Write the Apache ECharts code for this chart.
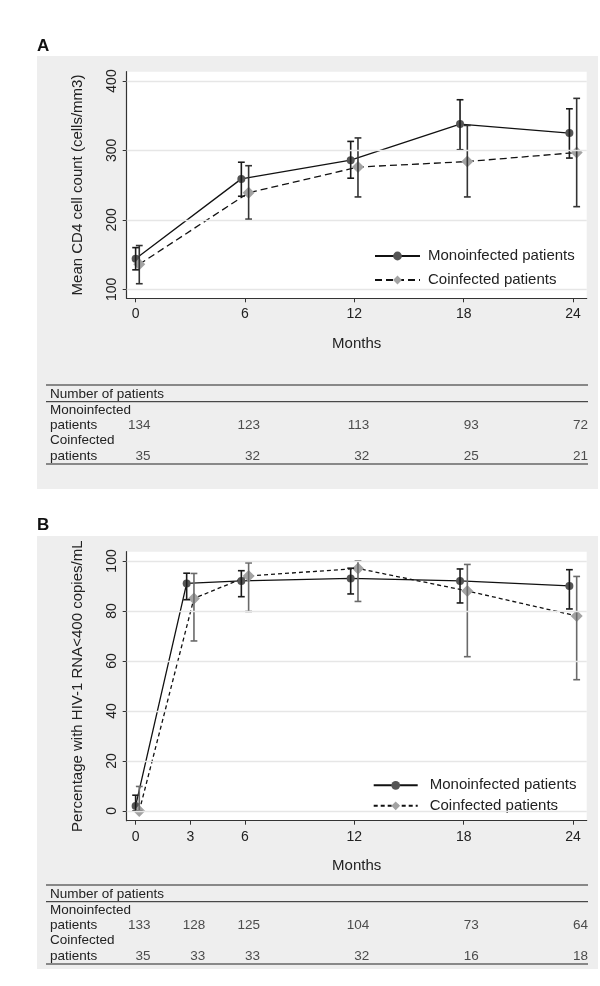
<!DOCTYPE html>
<html>
<head>
<meta charset="utf-8">
<script src="https://cdn.jsdelivr.net/npm/echarts@6/dist/echarts.min.js"></script>
<style>
  html, body { margin: 0; padding: 0; background: #fff; }
  #chart { width: 600px; height: 986px; }
</style>
</head>
<body>
<div id="chart"></div>
<script>
// panel A: CD4 count
const monthsA = [0, 6, 12, 18, 24]
const monoXA = [0, 5.8, 11.8, 17.8, 23.8]
const coXA = [0.2, 6.2, 12.2, 18.2, 24.2]
const monoCd4 = [144, 259, 286, 338, 325]
const monoCd4Lo = [128, 234, 260, 301, 289]
const monoCd4Hi = [160, 283, 313, 373, 360]
const coCd4 = [136, 239, 276, 284, 297]
const coCd4Lo = [108, 201, 233, 233, 219]
const coCd4Hi = [163, 278, 318, 336, 375]
const yTicksA = [100, 200, 300, 400]
const monoCountA = [134, 123, 113, 93, 72]
const coCountA = [35, 32, 32, 25, 21]

// panel B: % with HIV-1 RNA < 400
const monthsB = [0, 3, 6, 12, 18, 24]
const monoXB = [0, 2.8, 5.8, 11.8, 17.8, 23.8]
const coXB = [0.2, 3.2, 6.2, 12.2, 18.2, 24.2]
const monoPct = [2, 91, 92, 93, 92, 90]
const monoPctLo = [0, 84.5, 85.7, 86.8, 83.2, 80.8]
const monoPctHi = [6.3, 95.1, 96.1, 97.1, 96.8, 96.5]
const coPct = [0, 85, 94, 97, 88, 78]
const coPctLo = [0, 68, 79.8, 83.8, 61.7, 52.5]
const coPctHi = [9.8, 95, 99.2, 100, 98.6, 93.8]
const yTicksB = [0, 20, 40, 60, 80, 100]
const monoCountB = [133, 128, 125, 104, 73, 64]
const coCountB = [35, 33, 33, 32, 16, 18]

const FONT = 'Liberation Sans, Arial, Helvetica, sans-serif'
const INK = '#222'
const AXIS = '#333'

const pts = (xs, ys) => xs.map((x, i) => [x, ys[i]])
const bars = (xs, lo, hi) => xs.map((x, i) => [x, lo[i], hi[i]])
const counts = (months, vals, row) => months.map((m, i) => [m, row, vals[i]])

const errorBar = color => (params, api) => {
  const x = api.value(0)
  const lo = api.coord([x, api.value(1)])
  const hi = api.coord([x, api.value(2)])
  const w = 3.4
  const style = { stroke: color, lineWidth: 1.6 }
  return {
    type: 'group',
    children: [
      { type: 'line', shape: { x1: lo[0], y1: lo[1], x2: hi[0], y2: hi[1] }, style },
      { type: 'line', shape: { x1: hi[0] - w, y1: hi[1], x2: hi[0] + w, y2: hi[1] }, style },
      { type: 'line', shape: { x1: lo[0] - w, y1: lo[1], x2: lo[0] + w, y2: lo[1] }, style }
    ]
  }
}

const xMin = -0.49
const xMax = 24.75

const monthAxis = (gridIndex, ticks) => ({
  type: 'value', gridIndex, min: xMin, max: xMax,
  axisLine: { show: true, onZero: false, lineStyle: { color: AXIS, width: 1.2 } },
  axisTick: { show: true, length: 4, customValues: ticks, lineStyle: { color: AXIS } },
  axisLabel: { customValues: ticks, fontSize: 14, color: INK, fontFamily: FONT, margin: 9 },
  splitLine: { show: false },
  name: 'Months', nameLocation: 'middle', nameGap: 38,
  nameTextStyle: { fontSize: 15, color: INK, fontFamily: FONT }
})

const valueAxis = (gridIndex, min, max, ticks, name) => ({
  type: 'value', gridIndex, min, max,
  axisLine: { show: true, onZero: false, lineStyle: { color: AXIS, width: 1.2 } },
  axisTick: { show: true, length: 4, customValues: ticks, lineStyle: { color: AXIS } },
  axisLabel: { customValues: ticks, rotate: 90, fontSize: 14, color: INK, fontFamily: FONT, margin: 8 },
  splitLine: { show: false },
  name, nameLocation: 'middle', nameGap: 41,
  nameTextStyle: { fontSize: 15, color: INK, fontFamily: FONT }
})

const hiddenX = gridIndex => ({ type: 'value', gridIndex, min: xMin, max: xMax, show: false })
const hiddenY = gridIndex => ({ type: 'value', gridIndex, min: 0, max: 1, show: false })

const gridLines = (xi, ticks) => ({
  type: 'line', xAxisIndex: xi, yAxisIndex: xi, data: [], silent: true, z: 1,
  markLine: {
    symbol: 'none', silent: true, label: { show: false },
    lineStyle: { color: '#e6e6e6', width: 1.3, type: 'solid' },
    data: ticks.map(v => ({ yAxis: v }))
  }
})

const countLabels = (xi, data) => ({
  type: 'scatter', xAxisIndex: xi, yAxisIndex: xi, data, symbolSize: 0, silent: true,
  itemStyle: { color: 'rgba(0,0,0,0)' },
  label: {
    show: true, position: 'inside', offset: [15, 0], align: 'right', verticalAlign: 'middle',
    fontSize: 13.5, color: INK, fontFamily: FONT,
    formatter: p => String(p.value[2])
  }
})

const monoLine = (name, xi, data) => ({
  name, type: 'line', xAxisIndex: xi, yAxisIndex: xi, data, z: 3,
  symbol: 'circle', symbolSize: 8,
  itemStyle: { color: '#555' },
  lineStyle: { color: '#111', width: 1.3 }
})

const coLine = (name, xi, data, dash) => ({
  name, type: 'line', xAxisIndex: xi, yAxisIndex: xi, data, z: 3,
  symbol: 'diamond', symbolSize: 12,
  itemStyle: { color: '#a3a3a3' },
  lineStyle: { color: '#111', width: 1.3, type: dash }
})

const bar = (xi, data, color) => ({
  type: 'custom', xAxisIndex: xi, yAxisIndex: xi, data, z: 4, silent: true,
  encode: { x: 0, y: [1, 2] },
  renderItem: errorBar(color)
})

// table of patient numbers under each panel
const tableGraphics = top => {
  const txt = (text, y) => ({
    type: 'text', left: 50, top: y,
    style: { text, fontSize: 13.5, fill: INK, fontFamily: FONT, verticalAlign: 'middle' }
  })
  const rule = (y, w, c) => ({
    type: 'line', shape: { x1: 46, y1: y, x2: 588, y2: y }, style: { stroke: c, lineWidth: w }
  })
  return [
    rule(top, 1.6, '#666'),
    txt('Number of patients', top + 2),
    rule(top + 16.7, 1, '#222'),
    txt('Monoinfected', top + 18),
    txt('patients', top + 33.3),
    txt('Coinfected', top + 48.7),
    txt('patients', top + 64),
    rule(top + 79, 1.6, '#666')
  ]
}

const chart = echarts.init(document.getElementById('chart'))

chart.setOption({
  backgroundColor: '#fff',
  animation: false,
  textStyle: { fontFamily: FONT },
  graphic: [
    { type: 'rect', shape: { x: 37, y: 56, width: 561, height: 433 }, style: { fill: '#eeeeee' }, z: -100 },
    { type: 'rect', shape: { x: 37, y: 536, width: 561, height: 433 }, style: { fill: '#eeeeee' }, z: -100 },
    { type: 'text', left: 37, top: 38, style: { text: 'A', fontSize: 17, fontWeight: 'bold', fill: '#111', fontFamily: FONT } },
    { type: 'text', left: 37, top: 517, style: { text: 'B', fontSize: 17, fontWeight: 'bold', fill: '#111', fontFamily: FONT } },
    ...tableGraphics(385),
    ...tableGraphics(885)
  ],
  grid: [
    { left: 126.7, top: 71.7, width: 460, height: 226.6, show: true, backgroundColor: '#fff', borderWidth: 0 },
    { left: 126.7, top: 551.7, width: 460, height: 269, show: true, backgroundColor: '#fff', borderWidth: 0 },
    { left: 126.7, top: 425.3, width: 460, height: 30.7 },
    { left: 126.7, top: 925.3, width: 460, height: 30.7 }
  ],
  xAxis: [monthAxis(0, monthsA), monthAxis(1, monthsB), hiddenX(2), hiddenX(3)],
  yAxis: [
    valueAxis(0, 87, 413.4, yTicksA, 'Mean CD4 cell count (cells/mm3)'),
    valueAxis(1, -3.9, 103.7, yTicksB, 'Percentage with HIV-1 RNA<400 copies/mL'),
    hiddenY(2),
    hiddenY(3)
  ],
  legend: [
    {
      data: ['Monoinfected patients', 'Coinfected patients'],
      orient: 'vertical', left: 369, top: 243.5, itemWidth: 45, itemHeight: 11, itemGap: 9,
      selectedMode: false,
      textStyle: { fontSize: 15, color: INK, fontFamily: FONT, padding: [0, 0, 0, 3] }
    },
    {
      data: ['B: Monoinfected patients', 'B: Coinfected patients'],
      formatter: n => n.replace('B: ', ''),
      orient: 'vertical', left: 367.7, top: 772.8, itemWidth: 44, itemHeight: 11, itemGap: 5.5,
      selectedMode: false,
      textStyle: { fontSize: 15, color: INK, fontFamily: FONT, padding: [0, 0, 0, 7] }
    }
  ],
  series: [
    gridLines(0, yTicksA),
    gridLines(1, yTicksB),
    monoLine('Monoinfected patients', 0, pts(monoXA, monoCd4)),
    coLine('Coinfected patients', 0, pts(coXA, coCd4), [7, 4]),
    bar(0, bars(monoXA, monoCd4Lo, monoCd4Hi), '#1a1a1a'),
    bar(0, bars(coXA, coCd4Lo, coCd4Hi), '#333'),
    monoLine('B: Monoinfected patients', 1, pts(monoXB, monoPct)),
    coLine('B: Coinfected patients', 1, pts(coXB, coPct), [4, 3]),
    bar(1, bars(monoXB, monoPctLo, monoPctHi), '#1a1a1a'),
    bar(1, bars(coXB, coPctLo, coPctHi), '#6a6a6a'),
    countLabels(2, counts(monthsA, monoCountA, 1)),
    countLabels(2, counts(monthsA, coCountA, 0)),
    countLabels(3, counts(monthsB, monoCountB, 1)),
    countLabels(3, counts(monthsB, coCountB, 0))
  ]
})
</script>
</body>
</html>
